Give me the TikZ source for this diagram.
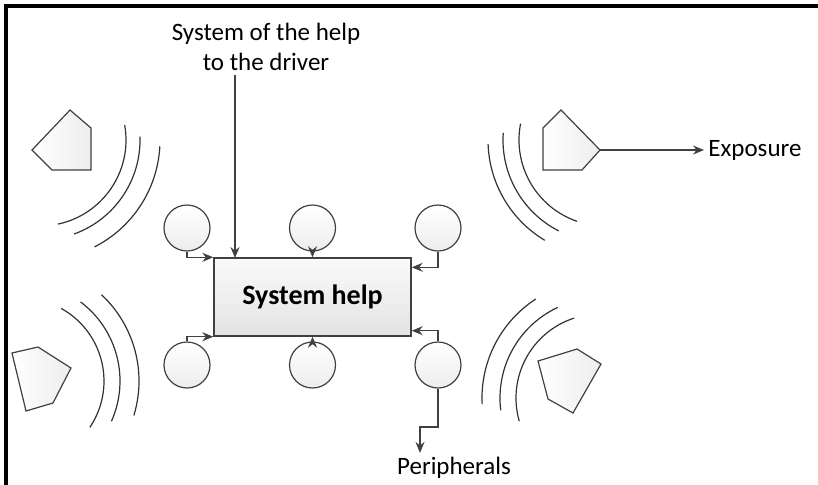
\documentclass[tikz,border=0pt]{standalone}
\usepackage{fontspec}
\setmainfont{Carlito}
\usepackage{tikz}
\usetikzlibrary{arrows.meta}
\definecolor{lineg}{RGB}{64,64,64}
\tikzstyle{helpbox} = [rectangle, minimum width=98.5pt, minimum height=39pt, text centered, draw=lineg, line width=0.7pt, top color=black!2, bottom color=black!11, font=\fontsize{14}{16}\selectfont\bfseries]
\tikzstyle{unit} = [circle, minimum size=23pt, inner sep=0pt, draw=lineg, line width=0.6pt, top color=white, bottom color=black!7]
\tikzstyle{sensor} = [draw=lineg, line width=0.6pt, left color=white, right color=black!7]
\tikzstyle{wave} = [draw=black!80, line width=0.6pt]
\tikzstyle{txt} = [font=\fontsize{12.5}{15}\selectfont, align=center, inner sep=2pt]
\tikzstyle{arrow} = [draw=lineg, line width=0.7pt, ->, >={Stealth[length=5.5pt, width=4.5pt]}]

\begin{document}
\begin{tikzpicture}[x=0.5pt, y=-0.5pt, node distance=62.75pt]
	\useasboundingbox (0,0) rectangle (818,484);
	
	% Frame
	\draw [line width=1.7pt] (6,486) -- (6,6) -- (820,6);
	
	% Nodes
	\node (box) [helpbox] at (312.5,297) {System help};
	\node (ctm) [unit, above of=box, node distance=34.5pt] {};
	\node (ctl) [unit, left of=ctm] {};
	\node (ctr) [unit, right of=ctm] {};
	\node (cbm) [unit, below of=box, node distance=34pt] {};
	\node (cbl) [unit, left of=cbm] {};
	\node (cbr) [unit, right of=cbm] {};
	\node (driver) [txt] at (266,47) {System of the help\\to the driver};
	\node (expo) [txt, anchor=west] at (704,150) {Exposure};
	\node (periph) [txt] at (454,468) {Peripherals};
	\coordinate (drv) at (235,258);
	\coordinate (tip) at (600,150);
	\coordinate (bend) at (420,427);
	
	% Sensors
	\draw [sensor] (70,110) -- (91,128) -- (91,170) -- (52,170) -- (32,150) -- cycle;
	\draw [sensor] (561,110) -- (600,150) -- (582,170) -- (543,170) -- (543,128) -- cycle;
	\draw [sensor] (12,353) -- (38,347) -- (71,368) -- (53,403) -- (26,411) -- cycle;
	\draw [sensor] (538,361) -- (577,349) -- (601,364) -- (573,413) -- (548,399) -- cycle;
	
	% Waves
	\foreach \r/\a/\b in {86/-10/78, 100/-2/70, 120/3/63}
		\draw [wave] ([shift={(40,140)}]\a:\r) arc [start angle=\a, end angle=\b, radius=\r];
	\foreach \r/\a/\b in {86/191/109, 102/184/117, 117/178/121}
		\draw [wave] ([shift={(605,140)}]\a:\r) arc [start angle=\a, end angle=\b, radius=\r];
	\foreach \r/\a/\b in {83/-61/34, 99/-53/24, 118/-47/17}
		\draw [wave] ([shift={(21,381)}]\a:\r) arc [start angle=\a, end angle=\b, radius=\r];
	\foreach \r/\a/\b in {84/-108/-196, 100/-115/-187, 118/-123/-183}
		\draw [wave] ([shift={(600,398)}]\a:\r) arc [start angle=\a, end angle=\b, radius=\r];
	
	% Arrows
	\draw [arrow] (driver.south -| drv) -- (drv);
	\draw [arrow] (ctl.south) |- (box.north west);
	\draw [arrow] (ctm.south) -- (box.north);
	\draw [arrow] (ctr.south) |- ([yshift=-5pt]box.north east);
	\draw [arrow] (cbl.north) |- (box.south west);
	\draw [arrow] (cbm.north) -- (box.south);
	\draw [arrow] (cbr.north) |- ([yshift=3pt]box.south east);
	\draw [arrow] (cbr.south) |- (bend) -- (bend |- periph.north);
	\draw [arrow] (tip) -- (expo.west);
	
\end{tikzpicture}
\end{document}
